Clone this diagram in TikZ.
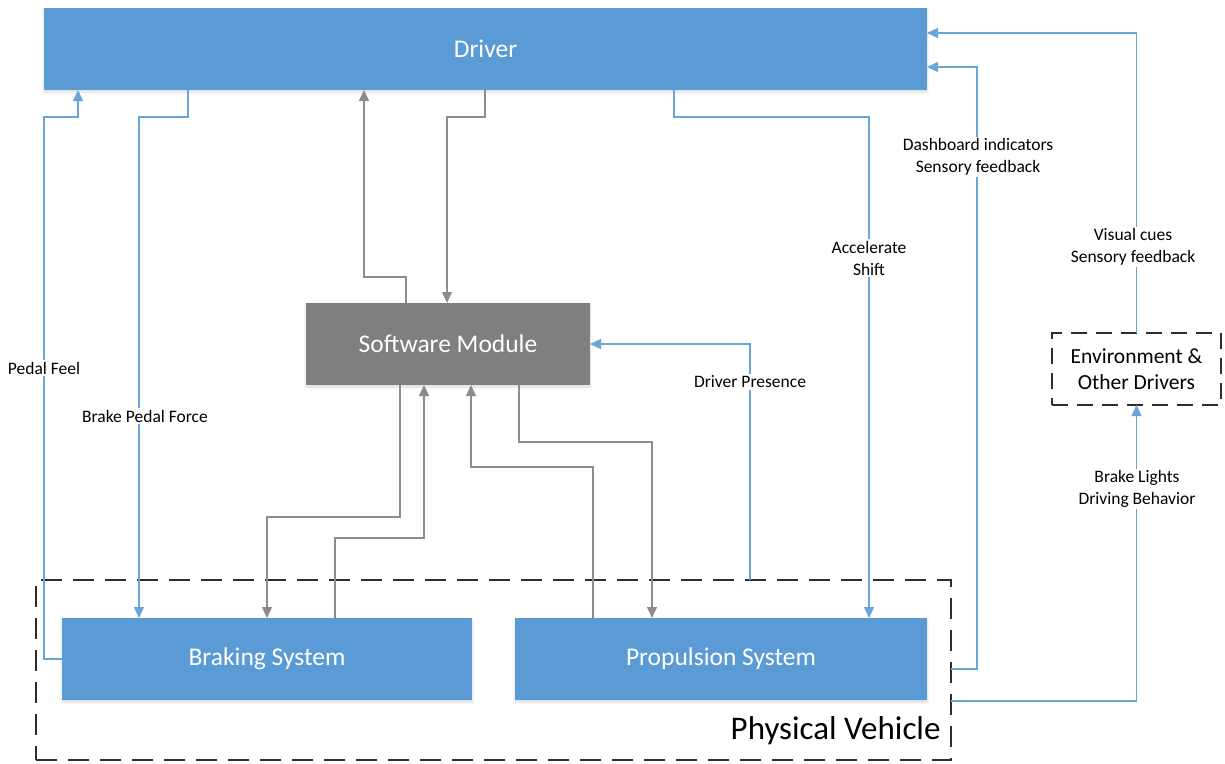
\documentclass[tikz,border=0pt]{standalone}
\usepackage{fontspec}
\setmainfont{Carlito}
\usetikzlibrary{arrows.meta,shadows.blur}

\definecolor{boxblue}{HTML}{5B9BD5}
\definecolor{lineblue}{HTML}{6AA5DA}
\definecolor{boxgray}{HTML}{7F7F7F}
\definecolor{linegray}{HTML}{8C8C8C}
\definecolor{dashgray}{HTML}{2E2E2E}

\tikzset{
  block/.style={rectangle, outer sep=0pt, inner sep=0pt, text=white,
    font=\fontsize{25.5}{30}\selectfont,
    blur shadow={shadow xshift=0pt, shadow yshift=-2pt, shadow blur steps=8,
      shadow blur radius=3pt, shadow opacity=15}},
  bluebox/.style={block, fill=boxblue},
  graybox/.style={block, fill=boxgray},
  bluewire/.style={draw=lineblue, line width=1.3pt, -{Triangle[length=11pt,width=10pt]}},
  graywire/.style={draw=linegray, line width=1.3pt, -{Triangle[length=11pt,width=10pt]}},
  tag/.style={fill=white, inner sep=1.5pt, align=center, text=black,
    font=\fontsize{17.5}{22}\selectfont},
}

\begin{document}
\begin{tikzpicture}[x=1pt, y=-1pt]
\useasboundingbox (0,0) rectangle (1225,763);

% main blocks
\node[bluebox, minimum width=883pt, minimum height=82pt] (driver) at (485.5,49) {Driver};
\node[graybox, minimum width=284pt, minimum height=82pt] (sw) at (448,344) {Software Module};
\node[bluebox, minimum width=410pt, minimum height=82pt] (brake) at (267,659) {Braking System};
\node[bluebox, minimum width=412pt, minimum height=82pt] (prop) at (721,659) {Propulsion System};

% vehicle boundary
\node[rectangle, draw=dashgray, line width=2pt, dash pattern=on 21pt off 11pt,
  minimum width=915pt, minimum height=180pt, outer sep=0pt] (pv) at (493.5,670) {};
\node[anchor=east, font=\fontsize{33}{38}\selectfont] (pvname) at (944,731) {Physical Vehicle};

% environment
\node[rectangle, draw=dashgray, line width=2pt, dash pattern=on 16pt off 9pt,
  minimum width=169pt, minimum height=72pt, outer sep=0pt, align=center,
  font=\fontsize{21.5}{26}\selectfont] (env) at (1136.5,369) {Environment \&\\Other Drivers};

% driver <-> braking
\draw[bluewire] (brake.west) -| (44,117) -| (78,0 |- driver.south);
\draw[bluewire] (188,0 |- driver.south) |- (139,117) -- (139,0 |- brake.north);

% driver <-> software
\draw[graywire] (406,0 |- sw.north) |- (364,277) -- (364,0 |- driver.south);
\draw[graywire] (485,0 |- driver.south) |- (447,117) -- (447,0 |- sw.north);

% software <-> braking
\draw[graywire] (400,0 |- sw.south) |- (267,517) -- (267,0 |- brake.north);
\draw[graywire] (335,0 |- brake.north) |- (424,538) -- (424,0 |- sw.south);

% software <-> propulsion
\draw[graywire] (593,0 |- prop.north) |- (471,467) -- (471,0 |- sw.south);
\draw[graywire] (519,0 |- sw.south) |- (652,442) -- (652,0 |- prop.north);

% vehicle -> software
\draw[bluewire] (750,0 |- pv.north) -- (750,344) -- (sw.east);

% driver -> propulsion
\draw[bluewire] (674,0 |- driver.south) |- (869,117) -- (869,0 |- prop.north);

% vehicle -> driver
\draw[bluewire] (pv.east |- 0,669) -| (977,67) -- (driver.east |- 0,67);

% vehicle -> environment
\draw[bluewire] (pv.east |- 0,701) -| (env.south);

% environment -> driver
\draw[bluewire] (env.north) |- (driver.east |- 0,33);

% connector labels
\node[tag] (lpedal) at (44,368) {Pedal Feel};
\node[tag] (lforce) at (145,416) {Brake Pedal Force};
\node[tag] (lpres) at (750,382) {Driver Presence};
\node[tag] (lacc) at (869,258) {Accelerate\\Shift};
\node[tag] (ldash) at (978,157) {Dashboard indicators\\Sensory feedback};
\node[tag] (lvis) at (1133,247) {Visual cues\\Sensory feedback};
\node[tag] (llights) at (1137,489) {Brake Lights\\Driving Behavior};
\end{tikzpicture}
\end{document}
